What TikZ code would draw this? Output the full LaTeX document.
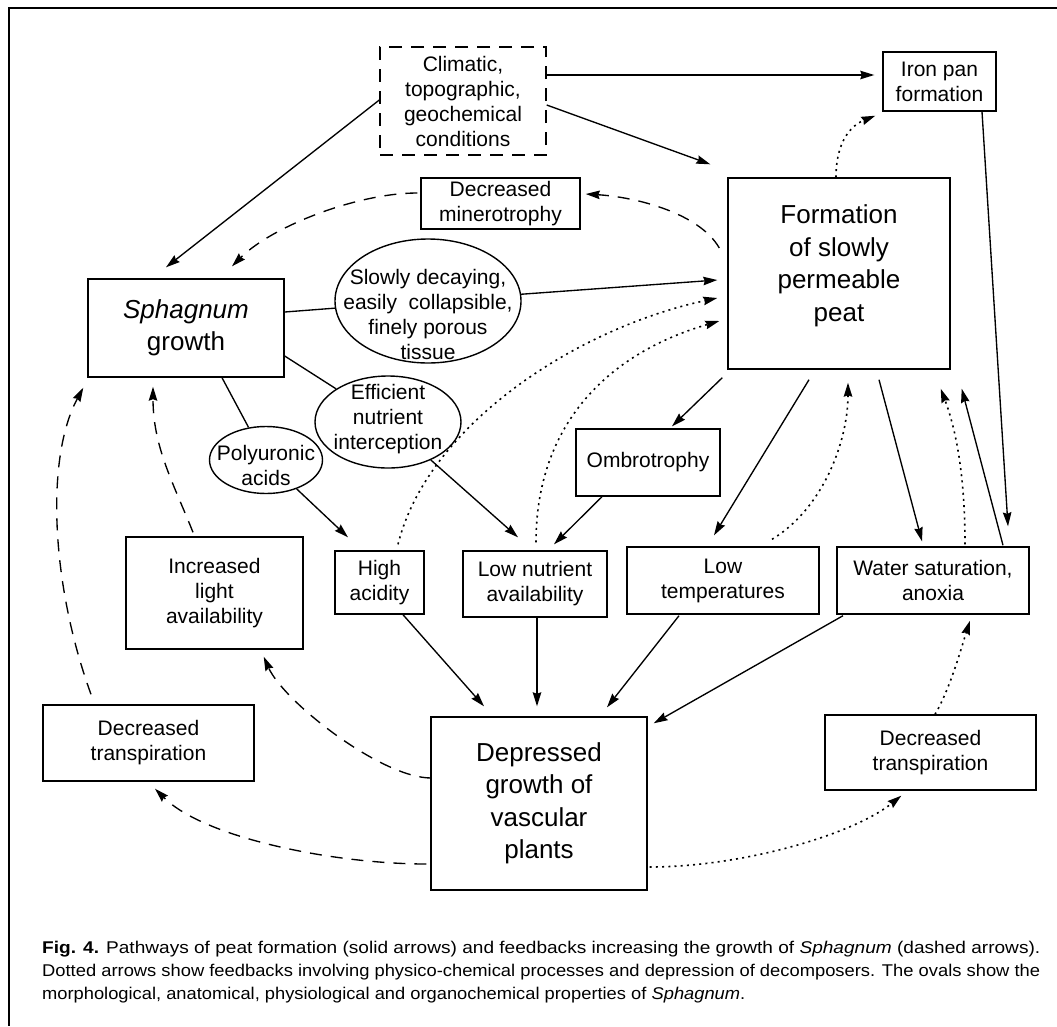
\documentclass[tikz,border=0pt]{standalone}
\usepackage{graphicx}
\usepackage{fontspec}
\setmainfont{Liberation Sans}
\usetikzlibrary{arrows.meta,shapes.geometric,calc}
\newcommand\normtxt{\fontsize{21}{25}\selectfont}
\newcommand\bigtxt{\fontsize{26}{32.5}\selectfont}
\newcommand\captxt{\fontsize{17}{20}\selectfont}
\begin{document}
\begin{tikzpicture}[x=1pt,y=-1pt,
  box/.style={draw, line width=1.4pt, inner sep=0pt, align=center, font=\normtxt},
  bigbox/.style={draw, line width=1.4pt, inner sep=0pt, align=center, font=\bigtxt},
  oval/.style={draw, ellipse, line width=1.4pt, inner sep=0pt},
  txt/.style={inner sep=0pt, align=center, font=\normtxt},
  captext/.style={anchor=base west, inner sep=0pt, font=\captxt},
  ln/.style={line width=1.35pt},
  arr/.style={line width=1.35pt, -{Stealth[length=14pt,width=8.5pt,inset=1.5pt]}},
  das/.style={arr, dash pattern=on 12pt off 9pt},
  dot/.style={arr, line width=1.6pt, dash pattern=on 2pt off 4.2pt}
]
\useasboundingbox (0,0) rectangle (1057,1026);
% frame
\draw[line width=1.6pt] (8,8) -- (1057,8);
\draw[line width=1.6pt] (9,8) -- (9,1026);

% boxes
\node[box, dash pattern=on 13pt off 9pt, minimum width=166pt, minimum height=108pt] (clim) at (463,101) {Climatic,\\topographic,\\geochemical\\conditions};
\node[box, minimum width=113pt, minimum height=59pt] (iron) at (939.5,81.5) {Iron pan\\formation};
\node[box, minimum width=159pt, minimum height=51pt] (minero) at (500.5,203.5) {Decreased\\minerotrophy};
\node[bigbox, minimum width=222pt, minimum height=191pt] (form) at (839,273.5) {};
\node[txt, font=\bigtxt] (formt) at (839,266) {Formation\\of slowly\\permeable\\peat};
\node[bigbox, minimum width=196pt, minimum height=98pt] (sph) at (186,328) {\textit{Sphagnum}\\growth};
\node[oval, minimum width=186pt, minimum height=124pt] (e1) at (428,301) {};
\node[txt] (e1t) at (428,314) {Slowly decaying,\\easily~ collapsible,\\finely porous\\tissue};
\node[oval, minimum width=146pt, minimum height=92pt] (e2) at (388,422) {};
\node[txt] (e2t) at (388,419) {Efficient\\nutrient\\interception};
\node[oval, minimum width=113pt, minimum height=67pt] (e3) at (266,460) {};
\node[txt] (e3t) at (266,465) {Polyuronic\\acids};
\node[box, minimum width=177pt, minimum height=112pt] (light) at (214.5,593) {Increased\\light\\availability};
\node[box, minimum width=89pt, minimum height=63pt] (acid) at (379.5,582.5) {High\\acidity};
\node[box, minimum width=144pt, minimum height=66pt] (lownut) at (535,584) {Low nutrient\\availability};
\node[box, minimum width=144pt, minimum height=67pt] (ombro) at (648,462.5) {Ombrotrophy};
\node[box, minimum width=192pt, minimum height=67pt] (lowtemp) at (723,580.5) {Low\\temperatures};
\node[box, minimum width=192pt, minimum height=67pt] (water) at (933,580.5) {Water saturation,\\anoxia};
\node[box, minimum width=211pt, minimum height=75pt] (dtr) at (930.5,752.5) {Decreased\\transpiration};
\node[box, minimum width=211pt, minimum height=76pt] (dtl) at (148.5,743) {Decreased\\transpiration};
\node[bigbox, minimum width=216pt, minimum height=173pt] (dep) at (539,803.5) {Depressed\\growth of\\vascular\\plants};

% solid connectors
\draw[arr] ([shift={(0,-1)}]clim.west) -- ([shift={(-20,-11)}]sph.north);
\draw[arr] ([shift={(0,-26)}]clim.east) -- ([shift={(-8,-6.5)}]iron.west);
\draw[arr] ([shift={(0,4)}]clim.east) -- ([shift={(-17,-13)}]form.north west);
\draw[ln] ([shift={(0,-16)}]sph.east) -- (e1);
\draw[arr] (e1) -- ([shift={(-10,6.5)}]form.west);
\draw[ln] ([shift={(0,28)}]sph.east) -- (e2);
\draw[arr] (e2) -- ([shift={(-17,-13)}]lownut.north);
\draw[ln] ([shift={(36,0)}]sph.south) -- (e3);
\draw[arr] (e3) -- ([shift={(-31.5,-13)}]acid.north);
\draw[arr] ([shift={(-5,8)}]form.south west) -- ([shift={(24,-2)}]ombro.north);
\draw[arr] ([shift={(-46,0)}]ombro.south) -- ([shift={(19,-6)}]lownut.north);
\draw[arr] ([shift={(-30,10)}]form.south) -- ([shift={(-9,-11)}]lowtemp.north);
\draw[arr] ([shift={(40,10)}]form.south) -- ([shift={(-11,-5)}]water.north);
\draw[arr] ([shift={(70,-1)}]water.north) -- ([shift={(11,19)}]form.south east);
\draw[arr] ([shift={(42.5,0)}]iron.south) -- ([shift={(75,-20)}]water.north);
\draw[arr] ([shift={(23.5,0)}]acid.south) -- ([shift={(-55,-10)}]dep.north);
\draw[arr] ([shift={(2,0)}]lownut.south) -- ([shift={(-2,-10)}]dep.north);
\draw[arr] ([shift={(-44,1)}]lowtemp.south) -- ([shift={(68,-9)}]dep.north);
\draw[arr] ([shift={(-90,1)}]water.south) -- ([shift={(6,7)}]dep.north east);

% dashed connectors
\draw[das] ([shift={(-8,-25.5)}]form.west) .. controls +(-20,-35) and +(50,3) .. ([shift={(5,-9.5)}]minero.east);
\draw[das] ([shift={(-3,-10.5)}]minero.west) .. controls +(-60,0) and +(40,-40) .. ([shift={(46,-12)}]sph.north);
\draw[das] ([shift={(-21.5,-4)}]light.north) .. controls +(-20,-50) and +(0,60) .. ([shift={(-33,9)}]sph.south);
\draw[das] ([shift={(-57.5,-10)}]dtl.north) .. controls +(-40,-110) and +(-38,70) .. ([shift={(-4,10)}]sph.south west);
\draw[das] ([shift={(1,-25.5)}]dep.west) .. controls +(-50,0) and +(20,45) .. ([shift={(-40,7)}]light.south east);
\draw[das] ([shift={(-4,60.5)}]dep.west) .. controls +(-90,0) and +(50,50) .. ([shift={(6.5,7)}]dtl.south);

% dotted connectors
\draw[dot] ([shift={(-3,0)}]form.north) .. controls +(0,-35) and +(-25,10) .. ([shift={(-7,4)}]iron.south west);
\draw[dot] ([shift={(18.5,-6)}]acid.north) .. controls +(30,-120) and +(-140,30) .. ([shift={(-10,24.5)}]form.west);
\draw[dot] ([shift={(1,-8)}]lownut.north) .. controls +(0,-110) and +(-120,35) .. ([shift={(-8,47.5)}]form.west);
\draw[dot] ([shift={(49,-7)}]lowtemp.north) .. controls +(50,-30) and +(0,60) .. ([shift={(9,13)}]form.south);
\draw[dot] ([shift={(32,-2)}]water.north) .. controls +(0,-70) and +(15,40) .. ([shift={(-10,19)}]form.south east);
\draw[dot] ([shift={(4.5,0)}]dtr.north) .. controls +(15,-25) and +(-8,25) .. ([shift={(37,6)}]water.south);
\draw[dot] ([shift={(2,63.5)}]dep.east) .. controls +(90,0) and +(-50,40) .. ([shift={(77,5)}]dtr.south west);

% caption
\node[captext] (cap1) at (42,953) {\resizebox{998pt}{\height}{\textbf{Fig. 4.} Pathways of peat formation (solid arrows) and feedbacks increasing the growth of \textit{Sphagnum} (dashed arrows).}};
\node[captext] (cap2) at (42,976) {\resizebox{998pt}{\height}{Dotted arrows show feedbacks involving physico-chemical processes and depression of decomposers. The ovals show the}};
\node[captext] (cap3) at (42,999) {\resizebox{703pt}{\height}{morphological, anatomical, physiological and organochemical properties of \textit{Sphagnum}.}};
\end{tikzpicture}
\end{document}
